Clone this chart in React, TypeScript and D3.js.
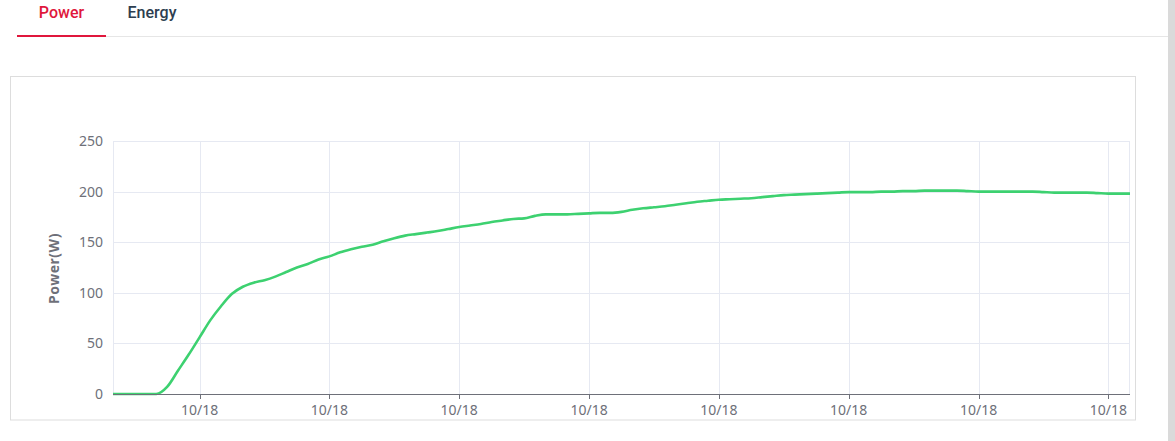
import React from "react";
import * as d3 from "d3";

const times: string[] = [
  "06:20","06:25","06:30","06:35","06:40","06:45","06:50","06:55",
  "07:00","07:05","07:10","07:15","07:20","07:25","07:30","07:35","07:40","07:45","07:50","07:55",
  "08:00","08:05","08:10","08:15","08:20","08:25","08:30","08:35","08:40","08:45","08:50","08:55",
  "09:00","09:05","09:10","09:15","09:20","09:25","09:30","09:35","09:40","09:45","09:50","09:55",
  "10:00","10:05","10:10","10:15","10:20","10:25","10:30","10:35","10:40","10:45","10:50","10:55",
  "11:00","11:05","11:10","11:15","11:20","11:25","11:30","11:35","11:40","11:45","11:50","11:55",
  "12:00","12:05","12:10","12:15","12:20","12:25","12:30","12:35","12:40","12:45","12:50","12:55",
  "13:00","13:05","13:10","13:15","13:20","13:25","13:30","13:35","13:40","13:45","13:50","13:55",
  "14:00","14:05","14:10",
];

const power: number[] = [
  0, 0, 0, 0, 0, 7, 23, 39,
  56, 73, 87, 99, 106, 110, 112.5, 116, 120.5, 125, 128.5, 133,
  136, 140, 143, 145.5, 147.5, 151, 154, 156.5, 158, 159.5, 161, 163,
  165, 166.5, 168, 170, 171.5, 173, 173.5, 176, 177.5, 177.5, 177.5, 178,
  178.5, 179, 179, 180, 182, 183.5, 184.5, 185.5, 187, 188.5, 190, 191,
  192, 192.5, 193, 193.5, 194.5, 195.5, 196.5, 197, 197.5, 198, 198.5, 199,
  199.5, 199.5, 199.5, 200, 200, 200.5, 200.5, 201, 201, 201, 201, 200.5,
  200, 200, 200, 200, 200, 200, 199.5, 199, 199, 199, 199, 198.5,
  198, 198, 198,
];

const yTicks: number[] = [0, 50, 100, 150, 200, 250];
const tabs: string[] = ["Power", "Energy"];
const yAxisTitle = "Power(W)";

const W = 1175;
const H = 441;
const plot = { left: 113, right: 1130, top: 141, bottom: 394 };

const parse = (t: string) => new Date(`2023-10-18T${t}:00`);

export default function App() {
  const data = times.map((t, i) => ({ t: parse(t), v: power[i] }));
  const x = d3
    .scaleTime()
    .domain([data[0].t, data[data.length - 1].t])
    .range([plot.left, plot.right]);
  const y = d3.scaleLinear().domain([0, 250]).range([plot.bottom, plot.top]);
  const xTicks = x.ticks(d3.timeHour.every(1)!);
  const fmt = d3.timeFormat("%m/%d");
  const line = d3
    .line<{ t: Date; v: number }>()
    .x((d) => x(d.t))
    .y((d) => y(d.v))
    .curve(d3.curveMonotoneX);

  const tickColor = "#6e7079";
  const gridColor = "#e6e9f2";
  const font = "'Noto Sans', 'DejaVu Sans', sans-serif";

  return (
    <svg
      width={W}
      height={H}
      style={{ position: "absolute", left: 0, top: 0, background: "#fff" }}
    >
      {/* tabs */}
      <line x1={17} x2={1168} y1={36.5} y2={36.5} stroke="#e6e6e6" strokeWidth={1} />
      <rect x={17} y={35} width={89} height={2} fill="#e0173c" />
      <text x={61.5} y={18} textAnchor="middle" fontFamily="Roboto, sans-serif" fontWeight={500} fontSize={16} fill="#e0173c">
        {tabs[0]}
      </text>
      <text x={152} y={18} textAnchor="middle" fontFamily="Roboto, sans-serif" fontWeight={500} fontSize={16} fill="#2d3e50">
        {tabs[1]}
      </text>

      {/* chart box */}
      <rect x={10.5} y={76.5} width={1125} height={343.5} fill="none" stroke="#dddddd" />

      {/* horizontal grid */}
      {yTicks.map((t) => (
        <line key={"hg" + t} x1={plot.left} x2={plot.right} y1={Math.round(y(t)) + 0.5} y2={Math.round(y(t)) + 0.5} stroke={gridColor} />
      ))}
      {/* vertical grid */}
      {xTicks.map((t, i) => (
        <line key={"vg" + i} x1={Math.round(x(t)) + 0.5} x2={Math.round(x(t)) + 0.5} y1={plot.top} y2={plot.bottom} stroke={gridColor} />
      ))}
      <line x1={plot.left + 0.5} x2={plot.left + 0.5} y1={plot.top} y2={plot.bottom} stroke={gridColor} />
      <line x1={plot.right - 0.5} x2={plot.right - 0.5} y1={plot.top} y2={plot.bottom} stroke={gridColor} />

      {/* y labels */}
      {yTicks.map((t) => (
        <text key={"yl" + t} x={103} y={y(t)} dy="0.35em" textAnchor="end" fontFamily={font} fontSize={14} fill={tickColor}>
          {t}
        </text>
      ))}
      <text
        transform={`translate(59,${(plot.top + plot.bottom) / 2 + 1}) rotate(-90)`}
        textAnchor="middle"
        fontFamily={font}
        fontWeight={700}
        fontSize={14}
        letterSpacing={0.5}
        fill="#6e7079"
      >
        {yAxisTitle}
      </text>

      {/* line */}
      <path d={line(data) || ""} fill="none" stroke="#3dd170" strokeWidth={2.6} strokeLinejoin="round" />

      {/* x axis */}
      <line x1={plot.left} x2={plot.right} y1={plot.bottom + 0.5} y2={plot.bottom + 0.5} stroke={tickColor} />
      {xTicks.map((t, i) => (
        <g key={"xt" + i}>
          <line x1={Math.round(x(t)) + 0.5} x2={Math.round(x(t)) + 0.5} y1={plot.bottom} y2={plot.bottom + 5} stroke={tickColor} />
          <text x={x(t)} y={415} textAnchor="middle" fontFamily={font} fontSize={14} fill={tickColor}>
            {fmt(t)}
          </text>
        </g>
      ))}

      {/* scrollbar */}
      <rect x={1168} y={0} width={7} height={H} fill="#dadada" />
    </svg>
  );
}
